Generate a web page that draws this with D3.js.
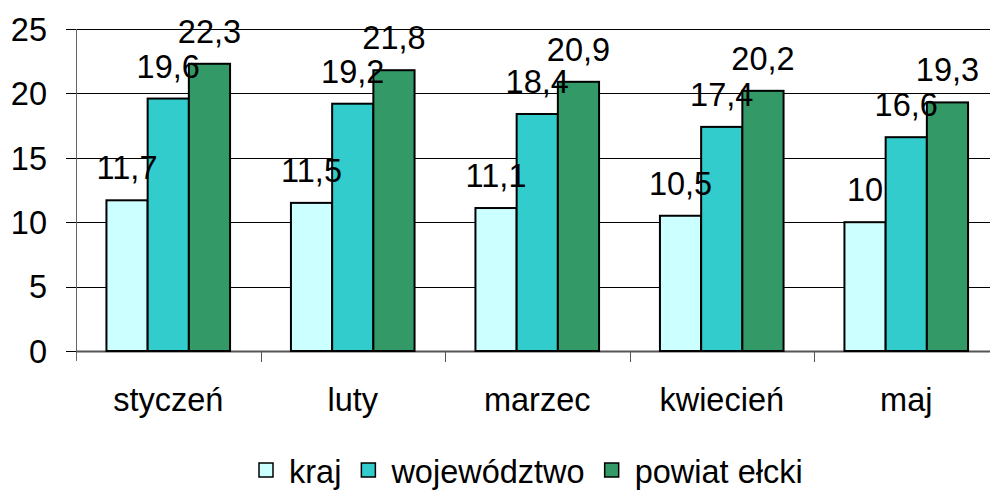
<!DOCTYPE html>
<html>
<head>
<meta charset="utf-8">
<script src="https://cdn.jsdelivr.net/npm/d3@7"></script>
<style>
  body { margin: 0; background: #fff; }
  svg { display: block; font-family: "Liberation Sans", Arial, sans-serif; }
</style>
</head>
<body>
<svg width="990" height="494"></svg>
<script>
const months = ['styczeń', 'luty', 'marzec', 'kwiecień', 'maj'];
const series = ['kraj', 'województwo', 'powiat ełcki'];
const kraj = [11.7, 11.5, 11.1, 10.5, 10];
const wojewodztwo = [19.6, 19.2, 18.4, 17.4, 16.6];
const powiat = [22.3, 21.8, 20.9, 20.2, 19.3];
const yTicks = [0, 5, 10, 15, 20, 25];

const colors = {'kraj': '#ccffff', 'województwo': '#33cccc', 'powiat ełcki': '#339966'};

const data = months.map((m, i) => ({
  month: m,
  'kraj': kraj[i],
  'województwo': wojewodztwo[i],
  'powiat ełcki': powiat[i]
}));

const svg = d3.select('svg');
const left = 76, bandW = 184.5, fontSize = 32.5;

//--------------SCALES---------------------------------------
const x0 = d3.scaleBand()
             .domain(months)
             .range([left, left + bandW * months.length])
             .padding(0);

const x1 = d3.scaleBand()
             .domain(series)
             .range([bandW * 0.165, bandW * 0.835]);

const y = d3.scaleLinear()
            .domain([0, 25])
            .range([351, 29]);

//--------------GRID + AXES----------------------------------
svg.append('g')
   .selectAll('line')
   .data(yTicks)
   .enter().append('line')
   .attr('x1', left - 10)
   .attr('x2', 990)
   .attr('y1', d => Math.round(y(d)) + 0.5)
   .attr('y2', d => Math.round(y(d)) + 0.5)
   .attr('stroke', '#000')
   .attr('stroke-width', 1);

svg.append('g')
   .selectAll('text')
   .data(yTicks)
   .enter().append('text')
   .attr('x', 47)
   .attr('y', d => y(d))
   .attr('dy', '0.36em')
   .attr('text-anchor', 'end')
   .attr('font-size', fontSize)
   .text(d => d);

// y axis line
svg.append('line')
   .attr('x1', left + 0.5).attr('x2', left + 0.5)
   .attr('y1', y(25)).attr('y2', y(0) + 10)
   .attr('stroke', '#666');

// x axis + category boundary ticks
svg.append('line')
   .attr('x1', left).attr('x2', 990)
   .attr('y1', y(0) + 0.5).attr('y2', y(0) + 0.5)
   .attr('stroke', '#555')
   .attr('stroke-width', 2);

svg.append('g')
   .selectAll('line')
   .data(months.slice(1))
   .enter().append('line')
   .attr('x1', d => Math.round(x0(d)) + 0.5)
   .attr('x2', d => Math.round(x0(d)) + 0.5)
   .attr('y1', y(0))
   .attr('y2', y(0) + 11)
   .attr('stroke', '#555');

svg.append('g')
   .selectAll('text')
   .data(months)
   .enter().append('text')
   .attr('x', d => x0(d) + bandW / 2)
   .attr('y', 411)
   .attr('text-anchor', 'middle')
   .attr('font-size', fontSize)
   .text(d => d);

//--------------BARS-----------------------------------------
const groups = svg.append('g')
   .selectAll('g')
   .data(data)
   .enter().append('g')
   .attr('transform', d => `translate(${x0(d.month)},0)`);

groups.selectAll('rect')
   .data(d => series.map(key => ({key: key, value: d[key]})))
   .enter().append('rect')
   .attr('x', d => x1(d.key))
   .attr('y', d => y(d.value))
   .attr('width', x1.bandwidth())
   .attr('height', d => y(0) - y(d.value))
   .attr('fill', d => colors[d.key])
   .attr('stroke', '#000')
   .attr('stroke-width', 2);

groups.selectAll('text')
   .data(d => series.map(key => ({key: key, value: d[key]})))
   .enter().append('text')
   .attr('x', d => x1(d.key) + x1.bandwidth() / 2)
   .attr('y', d => y(d.value) - 21)
   .attr('text-anchor', 'middle')
   .attr('font-size', fontSize)
   .text(d => String(d.value).replace('.', ','));

//--------------LEGEND---------------------------------------
const legend = svg.append('g');
let lx = 259;
series.forEach(s => {
  legend.append('rect')
        .attr('x', lx).attr('y', 463)
        .attr('width', 14).attr('height', 14)
        .attr('fill', colors[s])
        .attr('stroke', '#000')
        .attr('stroke-width', 1.5);
  const t = legend.append('text')
        .attr('x', lx + 30).attr('y', 483)
        .attr('font-size', fontSize)
        .text(s);
  lx += 30 + t.node().getComputedTextLength() + 20;
});
</script>
</body>
</html>
